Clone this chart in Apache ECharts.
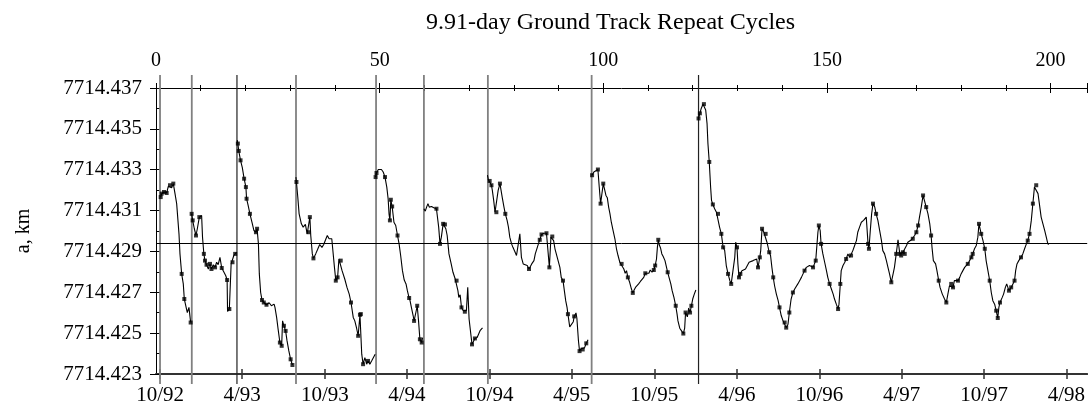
<!DOCTYPE html>
<html>
<head>
<meta charset="utf-8">
<script src="https://cdn.jsdelivr.net/npm/echarts@6/dist/echarts.min.js"></script>
<style>
  html, body { margin: 0; padding: 0; background: #fff; }
  #main { width: 1088px; height: 409px; }
</style>
</head>
<body>
<div id="main"></div>
<script>
// chart text
var titleText = '9.91-day Ground Track Repeat Cycles';
var yName = 'a, km';

// axes
var cycleDays = 9.91;
var cycleMax = 208.2;
var cycleStep = 50;
var yMin = 7714.423, yMax = 7714.437, yStep = 0.002;
var dateTicks = ['1992-10', '1993-04', '1993-10', '1994-04', '1994-10', '1995-04',
                 '1995-10', '1996-04', '1996-10', '1997-04', '1997-10', '1998-04'];
var cycleZeroDate = '1992-09-22';

// maneuver lines (cycle number), 1 = dark line
var maneuvers = [[0.9, 0], [8.0, 0], [18.1, 1], [31.3, 0], [49.2, 0], [59.9, 0], [74.2, 0], [97.4, 0], [121.3, 1]];
var meanA = 7714.42939;

// semi-major axis per segment [cycle, km]
var seg1 = [[1.05,7714.43166],[1.27,7714.43183],[1.79,7714.43191],[2.38,7714.43186],[2.75,7714.43219],[3.13,7714.43224],[3.50,7714.43212],[3.87,7714.43232],[4.25,7714.43183],[4.62,7714.43134],[4.84,7714.43134],[5.14,7714.42986],[5.36,7714.42888],[5.74,7714.42790],[6.10,7714.42741],[6.33,7714.42667],[6.70,7714.42667],[7.00,7714.42601],[7.37,7714.42626],[7.75,7714.42552]];
var seg2 = [[7.97,7714.43084],[8.20,7714.43052],[8.57,7714.43011],[8.94,7714.42978],[9.24,7714.43011],[9.69,7714.43068],[10.2,7714.43076],[10.4,7714.42970],[10.7,7714.42888],[10.95,7714.42855],[11.3,7714.42835],[11.7,7714.42814],[12.07,7714.42839],[12.4,7714.42814],[12.8,7714.42835],[13.2,7714.42822],[13.55,7714.42847],[13.9,7714.42835],[14.3,7714.42871],[14.7,7714.42819],[15.2,7714.42798],[15.6,7714.42781],[15.9,7714.42760],[16.0,7714.42606],[16.4,7714.42618],[16.7,7714.42618],[16.8,7714.42839],[17.1,7714.42847],[17.4,7714.42880],[17.7,7714.42888],[18.0,7714.42896]];
var seg3 = [[18.17,7714.43445],[18.3,7714.43428],[18.5,7714.43392],[18.9,7714.43346],[19.3,7714.43310],[19.7,7714.43256],[20.1,7714.43215],[20.25,7714.43158],[20.6,7714.43125],[21.0,7714.43084],[21.45,7714.43043],[21.9,7714.43002],[22.35,7714.42994],[22.6,7714.43011],[22.9,7714.42937],[23.1,7714.42790],[23.4,7714.42699],[23.7,7714.42662],[24.1,7714.42650],[24.7,7714.42639],[25.3,7714.42649],[25.8,7714.42634],[26.4,7714.42642],[26.6,7714.42626],[26.97,7714.42577],[27.3,7714.42520],[27.7,7714.42454],[28.1,7714.42438],[28.3,7714.42560],[28.6,7714.42536],[28.98,7714.42511],[29.3,7714.42462],[29.7,7714.42413],[30.1,7714.42372],[30.5,7714.42344]];
var seg4 = [[31.28,7714.43264],[31.4,7714.43240],[31.7,7714.43166],[32.0,7714.43084],[32.5,7714.43035],[32.9,7714.43019],[33.4,7714.43032],[33.8,7714.42986],[34.1,7714.42994],[34.4,7714.43068],[34.6,7714.42978],[34.95,7714.42888],[35.2,7714.42866],[35.7,7714.42888],[36.1,7714.42908],[36.6,7714.42934],[37.1,7714.42920],[37.5,7714.42934],[38.0,7714.42962],[38.3,7714.42978],[38.7,7714.42962],[39.3,7714.42962],[39.6,7714.42970],[39.9,7714.42822],[40.2,7714.42757],[40.6,7714.42773],[40.9,7714.42863],[41.3,7714.42855],[41.6,7714.42806],[42.2,7714.42765],[42.7,7714.42724],[43.2,7714.42691],[43.6,7714.42650],[44.1,7714.42577],[44.45,7714.42560],[44.85,7714.42524],[45.2,7714.42487],[45.6,7714.42590],[45.8,7714.42593],[46.0,7714.42397],[46.3,7714.42348],[46.7,7714.42380],[47.1,7714.42348],[47.4,7714.42364],[47.8,7714.42348],[48.2,7714.42364],[48.6,7714.42364],[49.0,7714.42397]];
var seg5 = [[49.1,7714.43264],[49.3,7714.43284],[49.7,7714.43301],[50.05,7714.43294],[50.4,7714.43301],[50.8,7714.43289],[51.2,7714.43264],[51.6,7714.43215],[51.9,7714.43158],[52.1,7714.43084],[52.3,7714.43052],[52.5,7714.43153],[52.8,7714.43120],[53.2,7714.43043],[53.6,7714.43027],[54.0,7714.42978],[54.35,7714.42937],[54.7,7714.42880],[55.1,7714.42806],[55.5,7714.42760],[55.9,7714.42741],[56.2,7714.42708],[56.6,7714.42672],[56.8,7714.42659],[57.1,7714.42626],[57.5,7714.42585],[57.7,7714.42560],[58.1,7714.42601],[58.4,7714.42634],[58.7,7714.42560],[59.0,7714.42470],[59.4,7714.42454],[59.6,7714.42478]];
var seg6 = [[59.9,7714.43109],[60.2,7714.43097],[60.5,7714.43117],[60.8,7714.43134],[61.1,7714.43117],[61.6,7714.43120],[62.1,7714.43114],[62.7,7714.43109],[63.0,7714.43104],[63.2,7714.43019],[63.5,7714.42937],[63.8,7714.42970],[64.2,7714.43035],[64.6,7714.43032],[64.8,7714.43011],[65.1,7714.42978],[65.5,7714.42888],[66.0,7714.42839],[66.4,7714.42798],[66.9,7714.42765],[67.2,7714.42757],[67.5,7714.42708],[67.7,7714.42675],[68.0,7714.42688],[68.3,7714.42626],[68.7,7714.42610],[69.05,7714.42605],[69.4,7714.42610],[69.7,7714.42724],[70.0,7714.42569],[70.65,7714.42445],[71.3,7714.42474],[71.8,7714.42479],[72.2,7714.42488],[72.5,7714.42514],[73.0,7714.42526]];
var seg7 = [[74.1,7714.43273],[74.3,7714.43252],[74.6,7714.43245],[75.0,7714.43224],[75.2,7714.43199],[75.5,7714.43150],[75.8,7714.43092],[76.1,7714.43092],[76.5,7714.43199],[76.9,7714.43232],[77.25,7714.43232],[77.4,7714.43166],[77.8,7714.43117],[78.1,7714.43084],[78.5,7714.43052],[78.8,7714.43019],[79.1,7714.42970],[79.5,7714.42937],[79.8,7714.42920],[80.2,7714.42901],[80.6,7714.42880],[81.0,7714.42888],[81.35,7714.42986],[81.7,7714.42871],[82.1,7714.42839],[82.5,7714.42847],[83.0,7714.42831],[83.4,7714.42814],[84.0,7714.42839],[84.5,7714.42855],[84.8,7714.42888],[85.2,7714.42896],[85.5,7714.42937],[85.8,7714.42957],[86.2,7714.42983],[86.7,7714.42989],[87.3,7714.42989],[87.6,7714.42983],[87.95,7714.42822],[88.3,7714.42970],[88.6,7714.42973],[88.9,7714.42953],[89.2,7714.42913],[89.5,7714.42904],[89.9,7714.42855],[90.3,7714.42822],[90.6,7714.42773],[91.0,7714.42757],[91.3,7714.42708],[91.6,7714.42659],[91.9,7714.42626],[92.1,7714.42593],[92.5,7714.42531],[92.9,7714.42522],[93.3,7714.42556],[93.5,7714.42582],[93.9,7714.42599],[94.1,7714.42573],[94.45,7714.42463],[94.7,7714.42412],[95.0,7714.42424],[95.4,7714.42420],[95.8,7714.42428],[96.2,7714.42450],[96.6,7714.42468]];
var seg8 = [[97.5,7714.43273],[97.9,7714.43289],[98.3,7714.43294],[98.8,7714.43301],[99.1,7714.43215],[99.4,7714.43134],[99.6,7714.43142],[100.0,7714.43232],[100.3,7714.43228],[100.6,7714.43174],[100.9,7714.43163],[101.2,7714.43117],[101.5,7714.43084],[101.8,7714.43043],[102.2,7714.43002],[102.6,7714.42962],[102.95,7714.42913],[103.3,7714.42880],[103.7,7714.42847],[104.1,7714.42839],[104.6,7714.42814],[104.9,7714.42793],[105.2,7714.42806],[105.5,7714.42773],[105.9,7714.42749],[106.3,7714.42716],[106.6,7714.42697],[106.9,7714.42711],[107.2,7714.42724],[107.55,7714.42716],[107.9,7714.42741],[108.3,7714.42753],[108.7,7714.42760],[109.05,7714.42773],[109.4,7714.42793],[109.8,7714.42798],[110.2,7714.42793],[110.5,7714.42809],[110.9,7714.42798],[111.3,7714.42809],[111.6,7714.42831],[111.9,7714.42863],[112.1,7714.42920],[112.3,7714.42957],[112.5,7714.42934],[112.8,7714.42917],[113.1,7714.42888],[113.4,7714.42875],[113.8,7714.42855],[114.1,7714.42847],[114.4,7714.42798],[114.7,7714.42773],[115.1,7714.42741],[115.4,7714.42708],[115.8,7714.42675],[116.2,7714.42634],[116.5,7714.42593],[116.7,7714.42560],[117.1,7714.42524],[117.5,7714.42511],[117.9,7714.42498],[118.2,7714.42524],[118.4,7714.42601],[118.8,7714.42580],[119.1,7714.42623],[119.4,7714.42601],[119.7,7714.42634],[120.0,7714.42667],[120.35,7714.42691],[120.7,7714.42711]];
var seg9 = [[121.3,7714.43551],[121.6,7714.43576],[121.9,7714.43600],[122.3,7714.43621],[122.7,7714.43616],[122.9,7714.43592],[123.2,7714.43527],[123.4,7714.43428],[123.7,7714.43338],[124.0,7714.43215],[124.2,7714.43150],[124.5,7714.43130],[124.9,7714.43109],[125.3,7714.43092],[125.65,7714.43084],[126.0,7714.43019],[126.4,7714.42986],[126.8,7714.42920],[127.15,7714.42904],[127.5,7714.42831],[127.9,7714.42790],[128.3,7714.42757],[128.6,7714.42741],[129.0,7714.42806],[129.4,7714.42871],[129.6,7714.42945],[129.9,7714.42920],[130.1,7714.42839],[130.35,7714.42773],[130.65,7714.42790],[131.0,7714.42806],[131.4,7714.42798],[131.8,7714.42814],[132.1,7714.42814],[132.6,7714.42847],[133.0,7714.42855],[133.5,7714.42855],[133.9,7714.42847],[134.3,7714.42863],[134.6,7714.42822],[135.0,7714.42871],[135.2,7714.42904],[135.5,7714.43011],[135.9,7714.42994],[136.3,7714.42986],[136.6,7714.42945],[136.9,7714.42937],[137.1,7714.42896],[137.4,7714.42880],[137.7,7714.42822],[138.0,7714.42773],[138.3,7714.42732],[138.7,7714.42691],[139.1,7714.42659],[139.4,7714.42626],[139.8,7714.42585],[140.2,7714.42560],[140.55,7714.42552],[140.9,7714.42527],[141.3,7714.42544],[141.6,7714.42601],[142.0,7714.42667],[142.4,7714.42699],[142.8,7714.42716],[143.2,7714.42724],[143.5,7714.42741],[143.9,7714.42757],[144.3,7714.42773],[144.6,7714.42781],[145.0,7714.42806],[145.4,7714.42822],[145.8,7714.42822],[146.1,7714.42831],[146.5,7714.42831],[146.9,7714.42822],[147.3,7714.42831],[147.5,7714.42855],[147.99,7714.42994],[148.2,7714.43027],[148.5,7714.43002],[148.7,7714.42937],[149.1,7714.42888],[149.5,7714.42847],[149.9,7714.42806],[150.2,7714.42773],[150.6,7714.42741],[151.0,7714.42716],[151.4,7714.42691],[151.7,7714.42667],[152.1,7714.42642],[152.5,7714.42618],[152.7,7714.42642],[153.0,7714.42741],[153.2,7714.42806],[153.6,7714.42831],[154.0,7714.42847],[154.3,7714.42863],[154.7,7714.42888],[155.1,7714.42871],[155.4,7714.42880],[155.8,7714.42904],[156.2,7714.42929],[156.6,7714.42953],[156.9,7714.42994],[157.3,7714.43019],[157.7,7714.43043],[158.2,7714.43052],[158.8,7714.43068],[159.2,7714.42937],[159.4,7714.42913],[159.7,7714.43002],[160.0,7714.43084],[160.3,7714.43134],[160.7,7714.43117],[161.0,7714.43084],[161.4,7714.43052],[161.8,7714.43002],[162.2,7714.42953],[162.5,7714.42904],[162.9,7714.42888],[163.3,7714.42855],[163.65,7714.42822],[164.0,7714.42790],[164.4,7714.42749],[164.8,7714.42790],[165.1,7714.42822],[165.5,7714.42888],[165.9,7714.42957],[166.3,7714.42888],[166.6,7714.42880],[167.0,7714.42896],[167.4,7714.42888],[167.8,7714.42929],[168.1,7714.42945],[168.5,7714.42953],[168.9,7714.42957],[169.2,7714.42962],[169.6,7714.42978],[170.0,7714.42994],[170.4,7714.43027],[170.7,7714.43068],[171.1,7714.43117],[171.5,7714.43174],[171.8,7714.43150],[172.2,7714.43117],[172.6,7714.43084],[173.0,7714.43035],[173.3,7714.42978],[173.5,7714.42920],[173.8,7714.42855],[174.3,7714.42839],[174.6,7714.42806],[175.0,7714.42757],[175.3,7714.42724],[175.8,7714.42691],[176.3,7714.42667],[176.7,7714.42650],[177.05,7714.42691],[177.4,7714.42732],[177.8,7714.42741],[178.2,7714.42724],[178.5,7714.42757],[178.9,7714.42765],[179.3,7714.42757],[179.7,7714.42773],[180.0,7714.42790],[180.4,7714.42806],[180.8,7714.42822],[181.1,7714.42831],[181.5,7714.42839],[181.9,7714.42855],[182.3,7714.42871],[182.6,7714.42888],[183.0,7714.42913],[183.4,7714.42929],[183.75,7714.42970],[184.0,7714.43035],[184.3,7714.43035],[184.5,7714.42986],[184.9,7714.42953],[185.3,7714.42913],[185.6,7714.42855],[186.0,7714.42806],[186.4,7714.42757],[186.75,7714.42699],[187.1,7714.42659],[187.5,7714.42642],[187.85,7714.42610],[188.2,7714.42574],[188.45,7714.42626],[188.7,7714.42650],[189.2,7714.42675],[189.5,7714.42691],[189.9,7714.42724],[190.2,7714.42741],[190.7,7714.42708],[191.2,7714.42724],[191.6,7714.42716],[191.95,7714.42757],[192.2,7714.42806],[192.5,7714.42839],[192.9,7714.42855],[193.4,7714.42871],[193.8,7714.42888],[194.2,7714.42913],[194.6,7714.42937],[194.9,7714.42953],[195.3,7714.42986],[195.7,7714.43052],[196.05,7714.43134],[196.4,7714.43215],[196.8,7714.43224],[197.2,7714.43183],[197.5,7714.43134],[197.9,7714.43068],[198.3,7714.43035],[198.7,7714.43002],[199.05,7714.42970],[199.4,7714.42937],[199.6,7714.42934]];

// square markers on the trace [cycle, km]
var marks = [[1.05,7714.43166],[1.27,7714.43183],[1.79,7714.43191],[2.38,7714.43186],[3.13,7714.43224],[3.87,7714.43232],[5.74,7714.42790],[6.33,7714.42667],[7.75,7714.42552],
  [7.97,7714.43084],[8.2,7714.43052],[8.94,7714.42978],[9.69,7714.43068],[10.7,7714.42888],[10.95,7714.42855],[11.3,7714.42835],[12.07,7714.42839],[12.4,7714.42814],[13.2,7714.42822],[14.7,7714.42819],[15.9,7714.42760],[16.4,7714.42618],[17.1,7714.42847],[17.7,7714.42888],
  [18.3,7714.43428],[18.5,7714.43392],[18.9,7714.43346],[19.7,7714.43256],[20.1,7714.43215],[20.25,7714.43158],[21.0,7714.43084],[22.35,7714.42994],[22.6,7714.43011],[23.7,7714.42662],[24.1,7714.42650],[24.7,7714.42639],[27.7,7714.42454],[28.1,7714.42438],[28.6,7714.42536],[28.98,7714.42511],[30.1,7714.42372],[30.5,7714.42344],
  [31.4,7714.43240],[34.1,7714.42994],[34.4,7714.43068],[35.2,7714.42866],[40.2,7714.42757],[40.6,7714.42773],[41.3,7714.42855],[43.6,7714.42650],[45.2,7714.42487],[45.6,7714.42590],[45.8,7714.42593],[46.3,7714.42348],[47.4,7714.42364],
  [49.1,7714.43264],[49.3,7714.43284],[51.2,7714.43264],[52.5,7714.43153],[52.8,7714.43120],[52.3,7714.43052],[54.0,7714.42978],[56.6,7714.42672],[57.7,7714.42560],[58.4,7714.42634],[59.0,7714.42470],[59.4,7714.42454],
  [62.7,7714.43109],[63.5,7714.42937],[64.2,7714.43035],[64.6,7714.43032],[67.2,7714.42757],[68.3,7714.42626],[69.05,7714.42605],[70.65,7714.42445],[71.3,7714.42474],
  [74.6,7714.43245],[75.0,7714.43224],[76.1,7714.43092],[76.9,7714.43232],[78.1,7714.43084],[83.4,7714.42814],[85.8,7714.42957],[86.2,7714.42983],[87.3,7714.42989],[87.95,7714.42822],[88.6,7714.42973],[91.0,7714.42757],[92.1,7714.42593],[93.5,7714.42582],[94.7,7714.42412],[95.4,7714.42420],[96.2,7714.42450],
  [97.5,7714.43273],[98.8,7714.43301],[99.4,7714.43134],[100.0,7714.43232],[104.1,7714.42839],[105.5,7714.42773],[106.6,7714.42697],[109.4,7714.42793],[111.3,7714.42809],[111.6,7714.42831],[112.3,7714.42957],[114.4,7714.42798],[116.2,7714.42634],[117.9,7714.42498],[118.4,7714.42601],[119.4,7714.42601],[119.7,7714.42634],
  [121.3,7714.43551],[121.6,7714.43576],[122.5,7714.43621],[123.7,7714.43338],[124.5,7714.43130],[125.65,7714.43084],[126.4,7714.42986],[126.8,7714.42920],[127.9,7714.42790],[128.6,7714.42741],[129.9,7714.42920],[130.35,7714.42773],[130.65,7714.42790],[134.6,7714.42822],[135.0,7714.42871],[135.5,7714.43011],[136.3,7714.42986],[137.1,7714.42896],[138.0,7714.42773],[139.4,7714.42626],
  [140.55,7714.42552],[140.9,7714.42527],[141.6,7714.42601],[142.4,7714.42699],[145.0,7714.42806],[146.9,7714.42822],[147.5,7714.42855],[148.2,7714.43027],[148.7,7714.42937],[150.6,7714.42741],[152.5,7714.42618],[153.0,7714.42741],[154.3,7714.42863],[155.4,7714.42880],[159.2,7714.42937],[159.4,7714.42913],[160.3,7714.43134],[161.0,7714.43084],[164.4,7714.42749],[165.5,7714.42888],[166.3,7714.42888],[166.6,7714.42880],
  [167.0,7714.42896],[167.4,7714.42888],[169.2,7714.42962],[170.0,7714.42994],[170.4,7714.43027],[171.5,7714.43174],[172.2,7714.43117],[173.3,7714.42978],[175.0,7714.42757],[176.7,7714.42650],[177.8,7714.42741],[178.2,7714.42724],[179.3,7714.42757],[181.5,7714.42839],[182.3,7714.42871],[182.6,7714.42888],[184.0,7714.43035],[184.5,7714.42986],[185.3,7714.42913],[186.4,7714.42757],[187.85,7714.42610],[188.2,7714.42574],[188.7,7714.42650],[190.7,7714.42708],[191.2,7714.42724],[191.95,7714.42757],[193.4,7714.42871],[194.9,7714.42953],[195.3,7714.42986],[196.05,7714.43134],[196.8,7714.43224]];

var font = 'Liberation Serif';
var DAY = 86400000;
var segments = [seg1, seg2, seg3, seg4, seg5, seg6, seg7, seg8, seg9];
var lineData = [];
for (var i = 0; i < segments.length; i++) {
  if (i > 0) lineData.push(['-', '-']);
  lineData = lineData.concat(segments[i]);
}

function toTime(s) {
  var p = s.split('-');
  return Date.UTC(+p[0], +p[1] - 1, p[2] ? +p[2] : 1);
}
// bottom axis runs in days since cycle 0
var t0 = toTime(cycleZeroDate);
var dayMax = cycleMax * cycleDays;
var dateTickDays = dateTicks.map(function (s) { return (toTime(s) - t0) / DAY; });

function dateLabel(v) {
  var d = new Date(t0 + v * DAY + DAY / 2);
  return (d.getUTCMonth() + 1) + '/' + String(d.getUTCFullYear()).slice(2);
}

var option = {
  animation: false,
  backgroundColor: '#fff',
  title: {
    text: titleText,
    left: 421,
    top: 6,
    textStyle: { fontFamily: font, fontSize: 24, fontWeight: 'normal', color: '#000' }
  },
  grid: { left: 156, right: 0, top: 88, bottom: 35 },
  xAxis: [
    {
      type: 'value', position: 'top', min: 0, max: cycleMax, interval: cycleStep,
      axisLine: { lineStyle: { color: '#000', width: 1 } },
      axisTick: { length: 5, lineStyle: { color: '#000' } },
      minorTick: { show: true, splitNumber: 5, length: 3, lineStyle: { color: '#000' } },
      axisLabel: { showMaxLabel: false, margin: 17, fontFamily: font, fontSize: 20, color: '#000' },
      splitLine: { show: false }
    },
    {
      type: 'value', position: 'top', min: 0, max: cycleMax, interval: cycleStep,
      axisLine: { show: false },
      axisTick: { inside: true, length: 5, lineStyle: { color: '#000' } },
      minorTick: { show: true, splitNumber: 5, length: 3, lineStyle: { color: '#000' } },
      axisLabel: { show: false },
      splitLine: { show: false }
    },
    {
      type: 'value', position: 'bottom', min: 0, max: dayMax,
      axisLine: { lineStyle: { color: '#333', width: 2 } },
      axisTick: { customValues: dateTickDays, length: 5, lineStyle: { color: '#333', width: 1.5 } },
      axisLabel: { customValues: dateTickDays, formatter: dateLabel, margin: 11, fontFamily: font, fontSize: 21, color: '#000' },
      splitLine: { show: false }
    },
    {
      type: 'value', position: 'bottom', min: 0, max: dayMax,
      axisLine: { show: false },
      axisTick: { customValues: dateTickDays, inside: true, length: 5, lineStyle: { color: '#333', width: 1.5 } },
      axisLabel: { show: false },
      splitLine: { show: false }
    }
  ],
  yAxis: [
    {
      type: 'value', min: yMin, max: yMax, interval: yStep,
      name: yName, nameLocation: 'middle', nameRotate: 90, nameGap: 122,
      nameTextStyle: { fontFamily: font, fontSize: 20, color: '#000' },
      axisLine: { lineStyle: { color: '#000', width: 1 } },
      axisTick: { length: 6, lineStyle: { color: '#000' } },
      axisLabel: { margin: 14, fontFamily: font, fontSize: 21, color: '#000',
        formatter: function (v) { return v.toFixed(3); } },
      splitLine: { show: false }
    },
    {
      type: 'value', min: yMin, max: yMax, interval: yStep, position: 'left',
      axisLine: { show: false },
      axisTick: { inside: true, length: 4, lineStyle: { color: '#000' } },
      minorTick: { show: true, splitNumber: 2, length: 4, lineStyle: { color: '#000' } },
      axisLabel: { show: false },
      splitLine: { show: false }
    }
  ],
  series: [
    {
      type: 'custom',
      xAxisIndex: 0, yAxisIndex: 0,
      clip: false, silent: true,
      data: maneuvers,
      renderItem: function (params, api) {
        var top = api.coord([api.value(0), yMax]);
        var bot = api.coord([api.value(0), yMin]);
        var dark = api.value(1) === 1;
        return {
          type: 'line',
          shape: { x1: top[0], y1: top[1] - 13, x2: bot[0], y2: bot[1] + 10 },
          style: { stroke: dark ? '#222' : '#808080', lineWidth: dark ? 1.2 : 1.8 }
        };
      }
    },
    {
      type: 'line',
      xAxisIndex: 0, yAxisIndex: 0,
      data: lineData,
      showSymbol: false,
      connectNulls: false,
      lineStyle: { color: '#000', width: 1.1 },
      markLine: {
        silent: true, symbol: 'none', precision: 6,
        label: { show: false },
        lineStyle: { color: '#000', width: 1, type: 'solid' },
        data: [{ yAxis: meanA }]
      }
    },
    {
      type: 'scatter',
      xAxisIndex: 0, yAxisIndex: 0,
      data: marks,
      symbol: 'rect',
      symbolSize: 4,
      itemStyle: { color: '#000' }
    }
  ]
};

var myChart = echarts.init(document.getElementById('main'));
myChart.setOption(option, true);
</script>
</body>
</html>
